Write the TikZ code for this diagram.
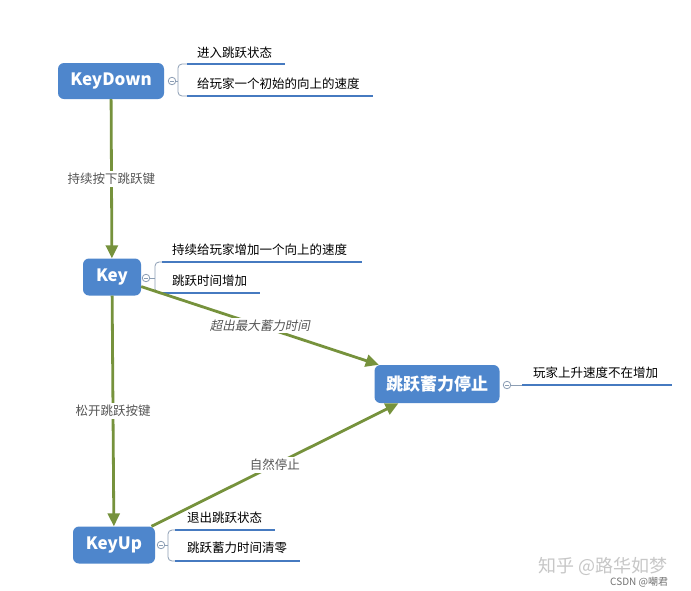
\documentclass[tikz,border=0pt]{standalone}
\usepackage{fontspec}
\setmainfont{Noto Sans CJK SC}
\newfontfamily\cjkit[FakeSlant=0.2]{Noto Sans CJK SC}
\usetikzlibrary{arrows.meta}
\definecolor{nodeblue}{RGB}{78,134,204}
\definecolor{lineblue}{RGB}{70,122,192}
\definecolor{arrowgreen}{RGB}{118,146,60}
\definecolor{labelgray}{RGB}{85,85,85}
\definecolor{brgray}{RGB}{140,158,180}
\tikzset{
  topic/.style={draw=none, fill=nodeblue, rounded corners=6pt, text=white,
    font=\fontsize{17}{17}\selectfont\bfseries, inner sep=0pt, align=center},
  subtext/.style={anchor=west, inner sep=0pt, font=\fontsize{12.5}{13}\selectfont, text=black},
  uline/.style={draw=lineblue, line width=2.4pt},
  br/.style={draw=brgray, line width=0.8pt},
  collapse/.style={circle, draw=brgray, fill=white, line width=0.8pt, minimum size=7.5pt, inner sep=0pt,
    path picture={\draw[brgray, line width=0.7pt] ([xshift=-2pt]path picture bounding box.center) -- ([xshift=2pt]path picture bounding box.center);}},
  flow/.style={draw=arrowgreen, line width=2.8pt, -{Triangle[length=13pt,width=12pt]}},
  flowlabel/.style={fill=white, inner sep=2pt, text=labelgray, font=\fontsize{12.5}{13}\selectfont, midway},
}
\begin{document}
\begin{tikzpicture}[x=1pt,y=-1pt]
\useasboundingbox (0,0) rectangle (691,590);
\fill[white] (0,0) rectangle (691,590);

% topics
\node[topic, minimum width=106pt, minimum height=36pt] (kd) at (111,81) {\raisebox{-1.5pt}{KeyDown}};
\node[topic, minimum width=58pt, minimum height=37pt] (key) at (112,277) {\raisebox{-1.5pt}{Key}};
\node[topic, minimum width=125pt, minimum height=38pt] (stop) at (437,384) {\raisebox{-1pt}{跳跃蓄力停止}};
\node[topic, minimum width=82pt, minimum height=37pt] (ku) at (114,545) {\raisebox{-1.5pt}{KeyUp}};

% KeyDown details
\node[collapse] (c1) at (172,81) {};
\draw[br] (c1.east) -- (178,81);
\draw[br, rounded corners=4pt] (188,64) -- (178,64) -- (178,96) -- (188,96);
\node[subtext] (kd1) at (197,53) {进入跳跃状态};
\node[subtext] (kd2) at (197,84) {给玩家一个初始的向上的速度};
\draw[uline] (187,64) -- (285,64);
\draw[uline] (187,96) -- (373,96);

% Key details
\node[collapse] (c2) at (146,278) {};
\draw[br] (c2.east) -- (155,278);
\draw[br, rounded corners=4pt] (163,262) -- (155,262) -- (155,293) -- (163,293);
\node[subtext] (k1) at (172,250) {持续给玩家增加一个向上的速度};
\node[subtext] (k2) at (172,281) {跳跃时间增加};
\draw[uline] (162,262) -- (362,262);
\draw[uline] (162,293) -- (260,293);

% Stop details
\node[collapse] (c3) at (507,385) {};
\draw[br] (c3.east) -- (523,385);
\node[subtext] (s1) at (533,373) {玩家上升速度不在增加};
\draw[uline] (522,385) -- (672,385);

% KeyUp details
\node[collapse] (c4) at (161,545) {};
\draw[br] (c4.east) -- (168,545);
\draw[br, rounded corners=4pt] (176,530) -- (168,530) -- (168,561) -- (176,561);
\node[subtext] (u1) at (187,518) {退出跳跃状态};
\node[subtext] (u2) at (187,548) {跳跃蓄力时间清零};
\draw[uline] (175,530) -- (275,530);
\draw[uline] (175,561) -- (300,561);

% flows
\draw[flow] (kd) -- node[flowlabel] (l1) {持续按下跳跃键} (key);
\draw[flow] (key) -- node[flowlabel] (l2) {松开跳跃按键} (ku);
\draw[flow] (key) -- node[flowlabel, font=\fontsize{12.5}{13}\selectfont\cjkit] (l3) {超出最大蓄力时间} (stop);
\draw[flow] (ku) -- node[flowlabel] (l4) {自然停止} (stop);

% watermark
\node[anchor=west, inner sep=0pt, text=black!22, font=\fontsize{18}{18}\selectfont] (wm1) at (538,566) {知乎 @路华如梦};
\node[anchor=west, inner sep=0pt, text=black!55, font=\fontsize{10}{11}\selectfont] (wm2) at (610,582) {CSDN @嘲君};
\end{tikzpicture}
\end{document}
